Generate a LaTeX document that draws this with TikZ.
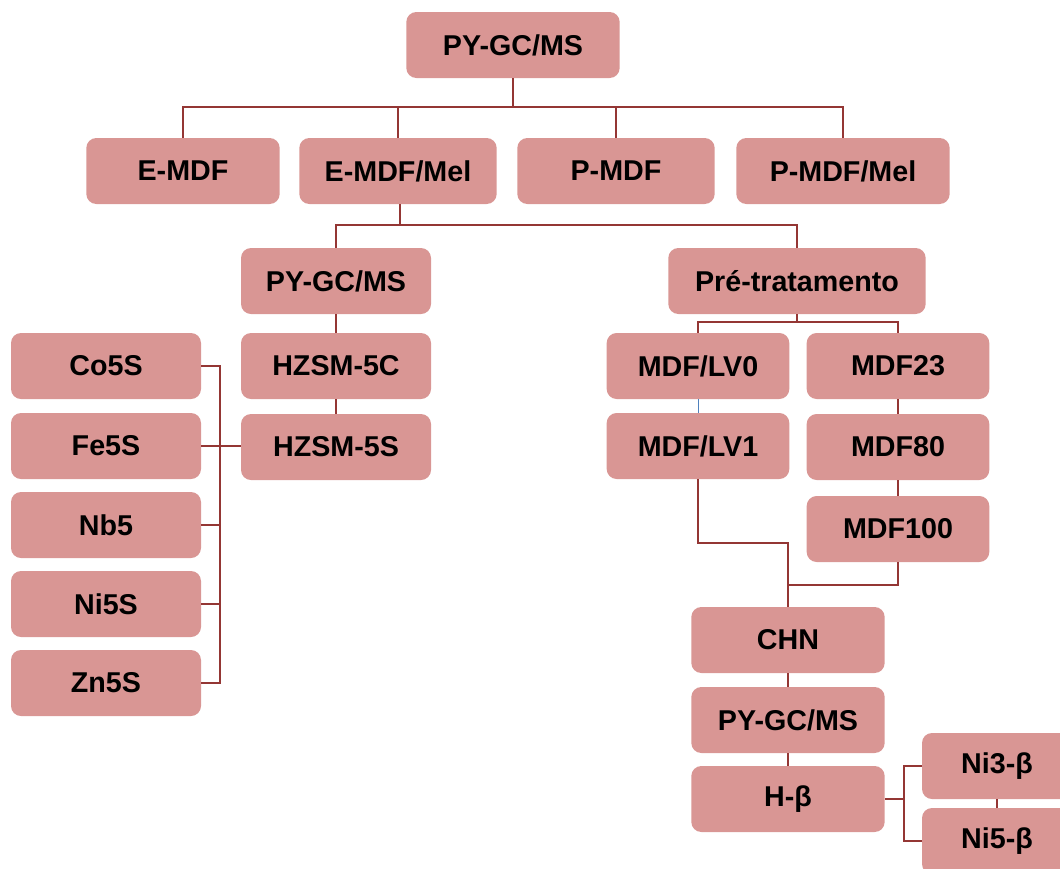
\documentclass[tikz,border=0pt]{standalone}
\usepackage{fontspec}
\setmainfont{Liberation Sans}
\definecolor{boxfill}{RGB}{217,150,148}
\definecolor{linkred}{RGB}{148,54,52}
\definecolor{linkblue}{RGB}{79,129,189}
\tikzset{
  stage/.style={rectangle, rounded corners=7.5pt, fill=boxfill, draw=none,
    minimum height=49.5pt, minimum width=142.5pt, inner sep=0pt,
    font=\fontsize{21.5}{25}\selectfont\bfseries},
  link/.style={draw=linkred, line width=1.8pt}
}
\begin{document}
\begin{tikzpicture}[x=0.75pt,y=0.75pt,yscale=-1,xscale=1]
\path[use as bounding box, clip] (0,0) rectangle (1060,868);

% top level
\node[stage, minimum width=160pt] (top) at (513,45) {PY-GC/MS};
\node[stage, minimum width=145pt] (emdf) at (183,171) {E-MDF};
\node[stage, minimum width=148pt] (emdfmel) at (398,171) {E-MDF/Mel};
\node[stage, minimum width=148pt] (pmdf) at (616,171) {P-MDF};
\node[stage, minimum width=160pt] (pmdfmel) at (843,171) {P-MDF/Mel};

% left branch
\node[stage] (pyleft) at (336,281) {PY-GC/MS};
\node[stage] (hzc) at (336,366) {HZSM-5C};
\node[stage] (hzs) at (336,447) {HZSM-5S};
\node[stage] (co) at (106,366) {Co5S};
\node[stage] (fe) at (106,446) {Fe5S};
\node[stage] (nb) at (106,525) {Nb5};
\node[stage] (ni) at (106,604) {Ni5S};
\node[stage] (zn) at (106,683) {Zn5S};

% right branch
\node[stage, minimum width=193pt] (pre) at (797,281) {Pré-tratamento};
\node[stage, minimum width=137pt] (lv0) at (698,366) {MDF/LV0};
\node[stage, minimum width=137pt] (lv1) at (698,446) {MDF/LV1};
\node[stage, minimum width=137pt] (m23) at (898,366) {MDF23};
\node[stage, minimum width=137pt] (m80) at (898,447) {MDF80};
\node[stage, minimum width=137pt] (m100) at (898,529) {MDF100};
\node[stage, minimum width=145pt] (chn) at (788,640) {CHN};
\node[stage, minimum width=145pt] (pyright) at (788,720) {PY-GC/MS};
\node[stage, minimum width=145pt] (hb) at (788,799) {H-β};
\node[stage, minimum width=112.5pt] (ni3) at (997,766) {Ni3-β};
\node[stage, minimum width=112.5pt] (ni5) at (997,841) {Ni5-β};

% bus points
\coordinate (bustop) at (513,107);
\coordinate (busmel) at (400,225);
\coordinate (buscat) at (220,446);
\coordinate (buspre) at (797,322);
\coordinate (buslv) at (788,543);
\coordinate (busmdf) at (788,585);
\coordinate (busbeta) at (904,799);

% connectors
\draw[link] (top.south) -- (bustop);
\draw[link] (emdf.north) |- (bustop) -| (pmdfmel.north);
\draw[link] (emdfmel.north) -- (emdfmel.north |- bustop);
\draw[link] (pmdf.north) -- (pmdf.north |- bustop);

\draw[link] (emdfmel.south -| busmel) -- (busmel);
\draw[link] (pyleft.north) |- (busmel) -| (pre.north);
\draw[link] (pyleft) -- (hzc) -- (hzs);

\draw[link] (co.east) -| (buscat) |- (zn.east);
\draw[link] (fe.east) -- (fe.east -| hzs.west);
\draw[link] (nb.east) -- (nb.east -| buscat);
\draw[link] (ni.east) -- (ni.east -| buscat);

\draw[link] (pre.south) -- (buspre);
\draw[link] (lv0.north) |- (buspre) -| (m23.north);
\draw[linkblue, line width=0.6pt] (lv0) -- (lv1);
\draw[link] (m23) -- (m80) -- (m100);
\draw[link] (lv1.south) |- (buslv) -- (chn.north);
\draw[link] (m100.south) |- (busmdf);
\draw[link] (chn) -- (pyright) -- (hb);

\draw[link] (hb.east) -- (busbeta);
\draw[link] (ni3.west) -| (busbeta) |- (ni5.west);
\draw[link] (ni3) -- (ni5);
\end{tikzpicture}
\end{document}
